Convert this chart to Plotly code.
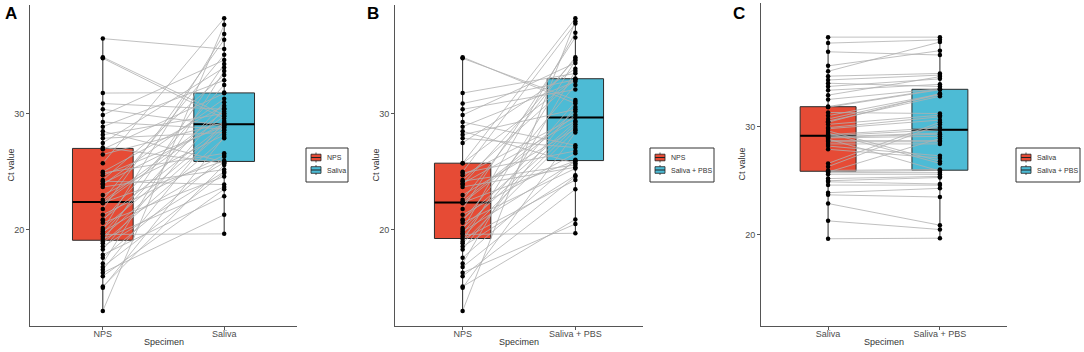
import numpy as np
import plotly.graph_objects as go

# ---------------- data ----------------
# Panel A: NPS vs Saliva (paired, same patient order)
a_nps = [13.0, 15.0, 15.1, 16.0, 16.3, 16.55, 16.8, 17.1, 17.6, 17.85,
         18.3, 18.55, 18.85, 19.0, 19.2, 19.4, 19.6, 19.7, 19.85, 20.0,
         20.15, 20.6, 20.8, 20.9, 21.3, 21.8, 22.3, 22.35, 22.45, 22.6,
         23.0, 23.7, 23.9, 24.0, 24.2, 24.3, 24.7, 24.9, 25.0, 25.75,
         26.5, 26.95, 27.1, 27.5, 27.9, 28.2, 28.5, 28.9, 29.3, 29.9,
         30.4, 30.9, 31.8, 34.8, 34.9, 36.5]
a_saliva = [37.7, 28.0, 25.6, 23.5, 21.3, 29.4, 24.9, 33.7, 26.3, 22.9,
            30.5, 25.0, 27.9, 34.3, 23.7, 28.6, 19.65, 31.0, 25.8, 36.9,
            28.85, 24.6, 32.5, 29.05, 26.45, 36.4, 29.8, 25.95, 30.2, 35.1,
            28.2, 25.2, 31.3, 29.15, 23.9, 33.35, 28.95, 26.6, 30.7, 38.25,
            29.25, 31.78, 25.75, 34.0, 28.4, 30.05, 25.85, 32.9, 28.7, 34.65,
            29.0, 30.4, 31.85, 29.6, 29.9, 35.6]

# Panel B: NPS vs Saliva + PBS
b_nps = [13.0, 15.0, 15.1, 16.0, 16.3, 16.8, 17.1, 17.6, 18.3, 18.55,
         18.85, 19.0, 19.2, 19.4, 19.6, 19.7, 19.85, 20.0, 20.15, 20.6,
         20.8, 20.9, 21.3, 21.8, 22.3, 22.35, 22.45, 22.6, 23.0, 23.7,
         23.9, 24.0, 24.2, 24.3, 24.7, 24.9, 25.0, 25.75, 25.75, 27.5,
         27.9, 28.2, 28.5, 28.9, 29.3, 29.9, 30.4, 30.9, 31.8, 34.8, 34.9]
b_pbs = [38.0, 28.4, 20.9, 23.5, 20.5, 24.6, 33.7, 26.05, 30.6, 24.7,
         28.6, 34.6, 24.3, 28.9, 19.7, 31.05, 25.9, 37.0, 29.1, 25.3,
         32.5, 29.3, 26.6, 36.6, 29.9, 25.95, 30.2, 34.9, 28.7, 25.4,
         34.75, 29.4, 25.6, 33.0, 29.7, 26.8, 37.8, 38.25, 33.05, 33.9,
         27.1, 30.4, 25.75, 32.8, 27.3, 34.4, 32.1, 32.95, 33.5, 31.2, 30.9]

# Panel C: Saliva vs Saliva + PBS
c_saliva = [19.65, 21.3, 22.9, 23.7, 23.9, 24.6, 24.9, 25.0, 25.2, 25.6,
            25.75, 25.8, 25.85, 25.95, 26.3, 26.6, 27.9, 28.2, 28.4, 28.6,
            28.7, 28.85, 28.95, 29.0, 29.05, 29.15, 29.25, 29.4, 29.6, 29.8,
            29.9, 30.2, 30.4, 30.5, 30.7, 31.0, 31.3, 31.78, 31.85, 32.5,
            32.9, 33.35, 33.7, 34.0, 34.3, 34.65, 35.1, 35.6, 36.9, 37.7, 38.25]
c_pbs = [19.7, 20.5, 20.9, 23.5, 24.3, 24.6, 24.7, 25.3, 25.4, 25.6,
         25.75, 28.9, 25.95, 26.05, 30.2, 30.4, 27.1, 27.3, 28.4, 28.6,
         28.7, 25.9, 29.1, 29.3, 29.4, 29.7, 29.9, 26.6, 26.8, 30.6,
         30.9, 31.05, 33.05, 32.8, 32.95, 33.0, 31.2, 33.4, 33.45, 33.5,
         34.6, 33.9, 34.4, 33.7, 34.75, 34.9, 37.8, 37.0, 36.6, 38.0, 38.25]

panel_letters = ["A", "B", "C"]
group_labels = [["NPS", "Saliva"], ["NPS", "Saliva + PBS"], ["Saliva", "Saliva + PBS"]]
panel_values = [(a_nps, a_saliva), (b_nps, b_pbs), (c_saliva, c_pbs)]
y_ranges = [[11.7, 39.4], [11.7, 39.4], [11.6, 41.4]]
y_ticks = [20, 30]
x_label = "Specimen"
y_label = "Ct value"

# ---------------- style ----------------
W, H = 1084, 352
FILL = ["#E64B35", "#4DBBD5"]
FONT = "Liberation Sans, Arial, sans-serif"
# pixel layout of each panel: (left, right, top, bottom)
panel_px = [(30, 297, 5, 326), (395, 643, 5, 326), (761, 1007, 3, 326)]
# legend box: (left, top, width, height)
legend_px = [(306, 148, 42, 34), (650, 148, 64, 34), (1016, 148, 64, 34)]
BOXW = 0.5


def px(x):
    return x / W


def py(y):
    return 1 - y / H


fig = go.Figure()
annotations = []
shapes = []
for i in range(3):
    sfx = "" if i == 0 else str(i + 1)
    xa, ya = "x" + sfx, "y" + sfx
    left, right, top, bottom = panel_px[i]
    v1, v2 = panel_values[i]
    labels = group_labels[i]

    # boxes
    for j, vals in enumerate((v1, v2)):
        fig.add_trace(go.Box(
            x=[j + 1] * len(vals), y=vals, width=BOXW, name=labels[j],
            fillcolor=FILL[j], line=dict(color="#2b2b2b", width=1),
            whiskerwidth=0, boxpoints=False, xaxis=xa, yaxis=ya,
            showlegend=False, hoverinfo="skip"))
    # thick median lines (ggplot style)
    for j, vals in enumerate((v1, v2)):
        med = float(np.percentile(vals, 50))
        fig.add_trace(go.Scatter(
            x=[j + 1 - BOXW / 2, j + 1 + BOXW / 2], y=[med, med], mode="lines",
            line=dict(color="black", width=2), xaxis=xa, yaxis=ya,
            showlegend=False, hoverinfo="skip"))
    # paired lines
    lx, ly = [], []
    for a, b in zip(v1, v2):
        lx += [1, 2, None]
        ly += [a, b, None]
    fig.add_trace(go.Scatter(
        x=lx, y=ly, mode="lines", line=dict(color="#b0b0b0", width=0.8),
        xaxis=xa, yaxis=ya, showlegend=False, hoverinfo="skip"))
    # points
    fig.add_trace(go.Scatter(
        x=[1] * len(v1) + [2] * len(v2), y=list(v1) + list(v2), mode="markers",
        marker=dict(color="black", size=4.5), xaxis=xa, yaxis=ya,
        showlegend=False, hoverinfo="skip"))

    fig.update_layout(**{
        "xaxis" + sfx: dict(
            domain=[px(left), px(right)], range=[0.4, 2.6], tickvals=[1, 2],
            ticktext=labels, showline=True, linecolor="#555555", linewidth=1,
            ticks="outside", ticklen=3, tickcolor="#555555", showgrid=False,
            zeroline=False, anchor=ya, ticklabelstandoff=-4,
            tickfont=dict(size=9, color="#4d4d4d", family=FONT),
            fixedrange=True),
        "yaxis" + sfx: dict(
            domain=[py(bottom), py(top)], range=y_ranges[i], tickvals=y_ticks,
            showline=True, linecolor="#555555", linewidth=1, ticks="outside",
            ticklen=3, tickcolor="#555555", showgrid=False, zeroline=False,
            anchor=xa, tickfont=dict(size=9, color="#4d4d4d", family=FONT),
            fixedrange=True),
    })

    # legend (ggplot-style box with boxplot keys)
    lx0, ly0, lw, lh = legend_px[i]
    shapes.append(dict(type="rect", xref="paper", yref="paper",
                       x0=px(lx0), x1=px(lx0 + lw), y0=py(ly0 + lh), y1=py(ly0),
                       line=dict(color="#333333", width=1), fillcolor="white"))
    for j in range(2):
        cy = ly0 + 9.5 + j * 12.5
        kx0, kx1 = lx0 + 5, lx0 + 15
        shapes.append(dict(type="line", xref="paper", yref="paper",
                           x0=px((kx0 + kx1) / 2), x1=px((kx0 + kx1) / 2),
                           y0=py(cy - 5), y1=py(cy + 5),
                           line=dict(color="#333333", width=0.8)))
        shapes.append(dict(type="rect", xref="paper", yref="paper",
                           x0=px(kx0), x1=px(kx1), y0=py(cy + 3.3), y1=py(cy - 3.3),
                           line=dict(color="#222222", width=0.8), fillcolor=FILL[j]))
        shapes.append(dict(type="line", xref="paper", yref="paper",
                           x0=px(kx0), x1=px(kx1), y0=py(cy), y1=py(cy),
                           line=dict(color="#222222", width=1)))
        annotations.append(dict(
            text=labels[j], x=px(lx0 + 19), y=py(cy), xref="paper", yref="paper",
            xanchor="left", yanchor="middle", showarrow=False,
            font=dict(size=7, color="#333333", family=FONT)))

    # panel letter
    annotations.append(dict(
        text="<b>" + panel_letters[i] + "</b>",
        x=px(left - 27) if i == 0 else px(left - 30),
        y=py(2), xref="paper", yref="paper", xanchor="left", yanchor="top",
        showarrow=False, font=dict(size=17, color="black", family=FONT)))
    # axis titles
    annotations.append(dict(
        text=x_label, x=px((left + right) / 2), y=py(349), xref="paper",
        yref="paper", xanchor="center", yanchor="bottom", showarrow=False,
        font=dict(size=9, color="#333333", family=FONT)))
    annotations.append(dict(
        text=y_label, x=px(left - 20), y=py((top + bottom) / 2),
        xref="paper", yref="paper", xanchor="center", yanchor="middle",
        textangle=-90, showarrow=False,
        font=dict(size=9, color="#333333", family=FONT)))

fig.update_layout(
    width=W, height=H, margin=dict(l=0, r=0, t=0, b=0),
    paper_bgcolor="white", plot_bgcolor="white", showlegend=False,
    font=dict(family=FONT), annotations=annotations, shapes=shapes,
    boxmode="overlay",
)
fig.write_html(
    "out.html",
    config={"displayModeBar": False},
    post_script="document.body.style.margin='0';document.body.style.overflow='hidden';",
)
